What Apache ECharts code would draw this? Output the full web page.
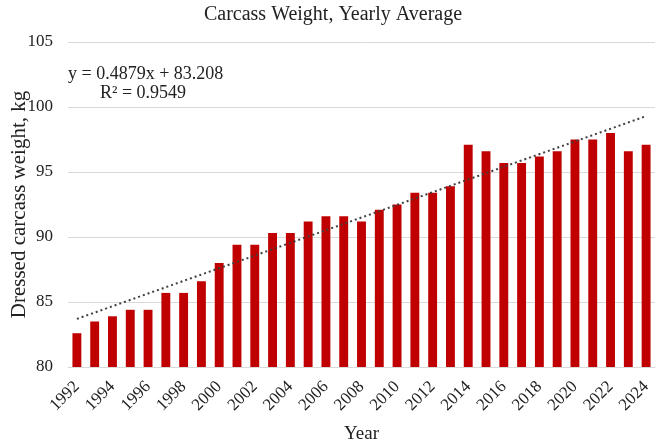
<!DOCTYPE html>
<html>
<head>
<meta charset="utf-8">
<script src="https://cdn.jsdelivr.net/npm/echarts@6/dist/echarts.min.js"></script>
<style>
html, body { margin: 0; padding: 0; background: #fff; }
#chart { width: 660px; height: 443px; }
</style>
</head>
<body>
<div id="chart"></div>
<script>
// yearly average dressed carcass weight, kg
var years = ['1992', '1993', '1994', '1995', '1996', '1997', '1998', '1999', '2000', '2001', '2002',
	'2003', '2004', '2005', '2006', '2007', '2008', '2009', '2010', '2011', '2012', '2013',
	'2014', '2015', '2016', '2017', '2018', '2019', '2020', '2021', '2022', '2023', '2024'];
var weights = [82.6, 83.5, 83.9, 84.4, 84.4, 85.7, 85.7, 86.6, 88.0, 89.4, 89.4,
	90.3, 90.3, 91.2, 91.6, 91.6, 91.2, 92.1, 92.5, 93.4, 93.4, 93.9,
	97.1, 96.6, 95.7, 95.7, 96.2, 96.6, 97.5, 97.5, 98.0, 96.6, 97.1];
// trendline end points, as drawn
var trendEnds = [83.7, 99.3];
var trendText = ['y = 0.4879x + 83.208', 'R² = 0.9549'];

var font = 'Liberation Serif';
var myChart = echarts.init(document.getElementById('chart'));
var option = {
	animation: false,
	textStyle: { fontFamily: font },
	title: {
		text: 'Carcass Weight, Yearly Average',
		left: 328,
		textAlign: 'center',
		top: 0,
		textStyle: { fontFamily: font, fontSize: 20, fontWeight: 'normal', color: '#222' }
	},
	grid: { left: 68, right: 5, top: 42, bottom: 76, outerBoundsMode: 'none', containLabel: false },
	xAxis: {
		type: 'category',
		data: years,
		name: 'Year',
		nameLocation: 'middle',
		nameGap: 58,
		nameMoveOverlap: false,
		nameTextStyle: { fontFamily: font, fontSize: 19, color: '#222' },
		axisTick: { show: false },
		axisLine: { lineStyle: { color: '#d9d9d9' } },
		axisLabel: { interval: 1, rotate: 45, fontFamily: font, fontSize: 17, color: '#222', margin: 17 }
	},
	yAxis: {
		type: 'value',
		min: 80,
		max: 105,
		interval: 5,
		name: 'Dressed carcass weight, kg',
		nameLocation: 'middle',
		nameGap: 38,
		nameMoveOverlap: false,
		nameTextStyle: { fontFamily: font, fontSize: 21, color: '#222' },
		axisLabel: { fontFamily: font, fontSize: 17, color: '#222', margin: 15 },
		splitLine: { lineStyle: { color: '#d9d9d9' } }
	},
	graphic: [{
		type: 'text',
		left: 68,
		top: 65,
		style: { text: trendText[0], font: '18px "Liberation Serif"', fill: '#222' }
	}, {
		type: 'text',
		left: 100,
		top: 84,
		style: { text: trendText[1], font: '18px "Liberation Serif"', fill: '#222' }
	}],
	series: [{
		type: 'bar',
		data: weights,
		barWidth: '50%',
		itemStyle: { color: '#c00000' },
		markLine: {
			silent: true,
			symbol: 'none',
			label: { show: false },
			lineStyle: { color: '#404040', type: [2, 3], width: 2 },
			data: [[
				{ coord: [years[0], trendEnds[0]] },
				{ coord: [years[years.length - 1], trendEnds[1]] }
			]]
		}
	}]
};
myChart.setOption(option);
</script>
</body>
</html>
